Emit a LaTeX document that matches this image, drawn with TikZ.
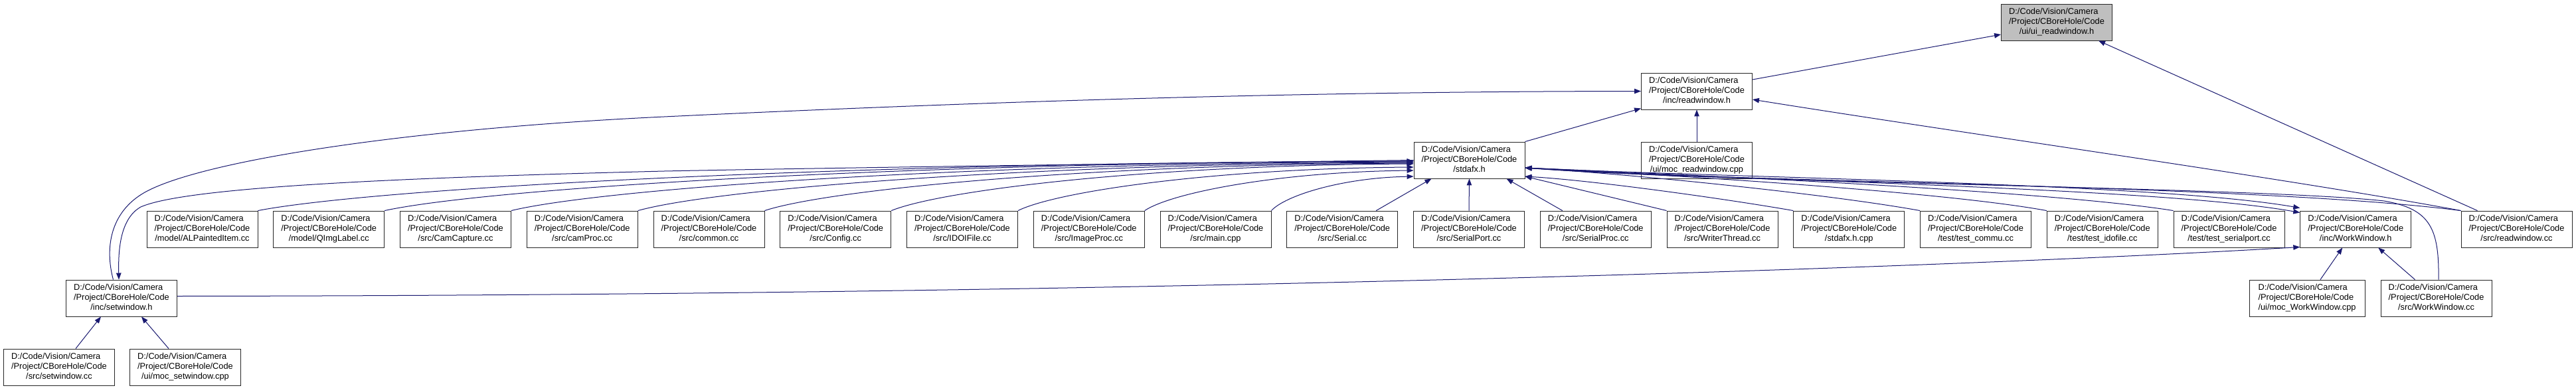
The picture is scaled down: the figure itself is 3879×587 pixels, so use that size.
\documentclass[tikz,border=0pt]{standalone}
\usepackage{fontspec}
\setmainfont{Liberation Sans}
\usetikzlibrary{arrows.meta}
\definecolor{edgec}{RGB}{25,25,112}
\definecolor{nodegray}{RGB}{191,191,191}
\newcommand\flbl[1]{\begin{tabular}{@{}l@{}}D:/Code/Vision/Camera\\/Project/CBoreHole/Code\\\multicolumn{1}{@{}c@{}}{#1}\end{tabular}}
\begin{document}
\begin{tikzpicture}[x=1pt,y=-1pt,
 filebox/.style={draw=black!85, line width=0.9pt, fill=white, minimum width=167pt, minimum height=55pt, inner sep=0pt, font=\fontsize{12.8}{14.6}\selectfont},
 rootbox/.style={filebox, fill=nodegray},
 incl/.style={draw=edgec, line width=1pt, -{Triangle[length=10pt,width=7.5pt]}}]
\useasboundingbox (0,0) rectangle (3879,587);
\fill[white] (0,0) rectangle (3879,587);
% nodes
\node[rootbox] (ui) at (3097,33.5) {\flbl{/ui/ui\_readwindow.h}};
\node[filebox] (rw) at (2555,137.5) {\flbl{/inc/readwindow.h}};
\node[filebox] (std) at (2212.5,241.5) {\flbl{/stdafx.h}};
\node[filebox] (mocrw) at (2555,241.5) {\flbl{/ui/moc\_readwindow.cpp}};
\node[filebox] (alp) at (304.5,345.5) {\flbl{/model/ALPaintedItem.cc}};
\node[filebox] (qimg) at (495.25,345.5) {\flbl{/model/QImgLabel.cc}};
\node[filebox] (camcap) at (686,345.5) {\flbl{/src/CamCapture.cc}};
\node[filebox] (camproc) at (876.75,345.5) {\flbl{/src/camProc.cc}};
\node[filebox] (common) at (1067.5,345.5) {\flbl{/src/common.cc}};
\node[filebox] (config) at (1258.25,345.5) {\flbl{/src/Config.cc}};
\node[filebox] (idoi) at (1449,345.5) {\flbl{/src/IDOIFile.cc}};
\node[filebox] (imgproc) at (1639.75,345.5) {\flbl{/src/ImageProc.cc}};
\node[filebox] (mainc) at (1830.5,345.5) {\flbl{/src/main.cpp}};
\node[filebox] (serial) at (2021.25,345.5) {\flbl{/src/Serial.cc}};
\node[filebox] (sport) at (2212,345.5) {\flbl{/src/SerialPort.cc}};
\node[filebox] (sproc) at (2402.75,345.5) {\flbl{/src/SerialProc.cc}};
\node[filebox] (writer) at (2593.5,345.5) {\flbl{/src/WriterThread.cc}};
\node[filebox] (stdcpp) at (2784.25,345.5) {\flbl{/stdafx.h.cpp}};
\node[filebox] (tcommu) at (2975,345.5) {\flbl{/test/test\_commu.cc}};
\node[filebox] (tidoi) at (3165.75,345.5) {\flbl{/test/test\_idofile.cc}};
\node[filebox] (tsport) at (3356.5,345.5) {\flbl{/test/test\_serialport.cc}};
\node[filebox] (ww) at (3547.25,345.5) {\flbl{/inc/WorkWindow.h}};
\node[filebox] (rwcc) at (3789.5,345.5) {\flbl{/src/readwindow.cc}};
\node[filebox] (sw) at (183,449.5) {\flbl{/inc/setwindow.h}};
\node[filebox, minimum width=174pt] (mocww) at (3474,449.5) {\flbl{/ui/moc\_WorkWindow.cpp}};
\node[filebox] (wwcc) at (3668.5,449.5) {\flbl{/src/WorkWindow.cc}};
\node[filebox] (swcc) at (89,553.5) {\flbl{/src/setwindow.cc}};
\node[filebox] (mocsw) at (279,553.5) {\flbl{/ui/moc\_setwindow.cpp}};
% edges to ui_readwindow.h
\draw[incl] ([yshift=17.5pt]rw.east) -- ([yshift=-18.5pt]ui.west);
\draw[incl] ([xshift=-59pt]rwcc.north) -- ([xshift=63pt]ui.south);
% edges to readwindow.h
\draw[incl] (std.north east) -- ([yshift=2pt]rw.south west);
\draw[incl] (mocrw.north) -- (rw.south);
\draw[incl] (rwcc.north west) .. controls (3450,270) and (2950,200) .. ([yshift=-12.5pt]rw.east);
\draw[incl] ([xshift=-12.5pt]sw.north) .. controls (158,375) and (165,320) .. (218,290) .. controls (300,244) and (600,195) .. (1000,176) .. controls (1400,157) and (1900,138) .. (rw.west);
% edges to setwindow.h
\draw[incl] (std.west) .. controls (1600,248) and (1200,254) .. (1000,258) .. controls (600,268) and (280,282) .. (212,312) .. controls (180,330) and (178,380) .. ([xshift=-4pt]sw.north);
\draw[incl] ([xshift=25pt]swcc.north) -- ([xshift=-31pt]sw.south);
\draw[incl] ([xshift=-25pt]mocsw.north) -- ([xshift=30pt]sw.south);
% edges to WorkWindow.h
\draw[incl] ([yshift=3pt]sw.east) .. controls (1800,445) and (3000,400) .. ([yshift=1pt]ww.south west);
\draw[incl] ([xshift=20pt]mocww.north) -- ([xshift=-20pt]ww.south);
\draw[incl] ([xshift=-32pt]wwcc.north) -- ([xshift=34pt]ww.south);
\draw[incl] ([yshift=-11.5pt]std.east) .. controls (2600,272) and (3250,282) .. ([yshift=-3pt]ww.north west);
\draw[incl] ([yshift=-11.5pt]std.east) .. controls (2600,268) and (3250,276) .. ([yshift=4pt]ww.north west);
% edges to stdafx.h from the left
\draw[incl] (alp.north east) .. controls (562,284) and (1258,245) .. ([yshift=-1.5pt]std.west);
\draw[incl] (qimg.north east) .. controls (734,284) and (1354,245) .. ([yshift=-1.5pt]std.west);
\draw[incl] (camcap.north east) .. controls (905.5,284.7) and (1449,246) .. ([yshift=-2.5pt]std.west);
\draw[incl] (camproc.north east) .. controls (1077,285) and (1545,247) .. ([yshift=-3.5pt]std.west);
\draw[incl] (common.north east) .. controls (1249,285.6) and (1640,248) .. ([yshift=-4.5pt]std.west);
\draw[incl] (config.north east) .. controls (1420.5,286) and (1735,249) .. ([yshift=-5.5pt]std.west);
\draw[incl] (idoi.north east) .. controls (1592,288.3) and (1831,254) .. ([yshift=-10.5pt]std.west);
\draw[incl] (imgproc.north east) .. controls (1764,290.5) and (1926,259) .. ([yshift=-15.5pt]std.west);
\draw[incl] (mainc.north east) .. controls (1935.5,294.6) and (2021.5,268) .. ([yshift=-24.5pt]std.west);
% edges to stdafx.h from below and the right
\draw[incl] ([xshift=51pt]serial.north) -- ([xshift=-57pt]std.south);
\draw[incl] (sport.north) -- (std.south);
\draw[incl] ([xshift=-50pt]sproc.north) -- ([xshift=56pt]std.south);
\draw[incl] (writer.north west) -- ([yshift=-24.5pt]std.east);
\draw[incl] (stdcpp.north west) .. controls (2600,300) and (2400,272) .. ([yshift=-24.5pt]std.east);
\draw[incl] (tcommu.north west) .. controls (2750,292) and (2450,262) .. ([yshift=-11.5pt]std.east);
\draw[incl] (tidoi.north west) .. controls (2920,288) and (2500,263) .. ([yshift=-11.5pt]std.east);
\draw[incl] (tsport.north west) .. controls (3080,287) and (2550,264) .. ([yshift=-11.5pt]std.east);
\draw[incl] (rwcc.north west) .. controls (3400,278) and (2600,275) .. ([yshift=-11.5pt]std.east);
\draw[incl] ([xshift=3.5pt]wwcc.north) .. controls (3673,345) and (3660,315) .. (3590,303) .. controls (3400,282) and (2600,276) .. ([yshift=-11.5pt]std.east);
\end{tikzpicture}
\end{document}
